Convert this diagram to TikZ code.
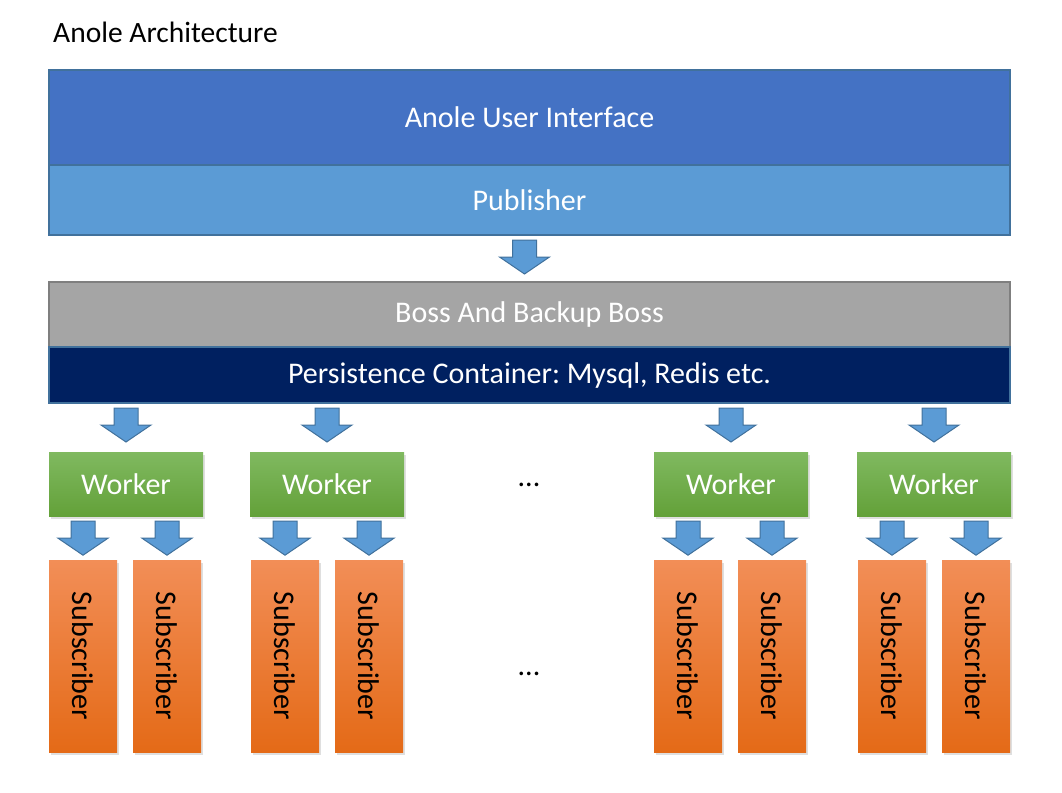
\documentclass[tikz,border=0pt]{standalone}
\usepackage{fontspec}
\setmainfont{Carlito}
\frenchspacing
\usetikzlibrary{calc,positioning,shadows}
\definecolor{uiblue}{HTML}{4472C4}
\definecolor{pubblue}{HTML}{5B9BD5}
\definecolor{edgeblue}{HTML}{41719C}
\definecolor{bossgrey}{HTML}{A5A5A5}
\definecolor{edgegrey}{HTML}{7F7F7F}
\definecolor{navyblue}{HTML}{002060}
\definecolor{greentop}{HTML}{80B960}
\definecolor{greenbot}{HTML}{63A139}
\definecolor{orangetop}{HTML}{F28E57}
\definecolor{orangebot}{HTML}{E46A17}
\tikzset{
  layer/.style={draw=edgeblue, line width=2pt, minimum width=961pt, inner sep=0pt, outer sep=0pt, text=white},
  worker/.style={minimum width=154pt, minimum height=64pt, top color=greentop, bottom color=greenbot, text=white,
    drop shadow={shadow xshift=1.5pt, shadow yshift=-2.5pt, opacity=0.25}},
  subscriber/.style={minimum width=68pt, minimum height=192pt, top color=orangetop, bottom color=orangebot,
    drop shadow={shadow xshift=1.5pt, shadow yshift=-2.5pt, opacity=0.25}},
  fatarrow/.style={fill=pubblue, draw=edgeblue, line width=1pt, line join=miter}
}
% block arrow under #2, straight above #3
\newcommand{\fatarrow}[3][0]{%
  \coordinate (fa) at ($(#3.north |- #2.south)+(#1,0)$);
  \draw[fatarrow] ($(fa)+(-12,5)$) -- ($(fa)+(12,5)$) -- ($(fa)+(12,22)$) -- ($(fa)+(25,22)$)
    -- ($(fa)+(0,39)$) -- ($(fa)+(-25,22)$) -- ($(fa)+(-12,22)$) -- cycle;}
\begin{document}
\begin{tikzpicture}[x=1pt, y=-1pt, font=\fontsize{30}{35}\selectfont]
        \useasboundingbox (0,0) rectangle (1062,792);
        \node[anchor=base west, inner sep=0pt, font=\fontsize{29.5}{35}\selectfont] (title) at (53,42) {Anole Architecture};
        % top layers
        \node[layer, fill=uiblue, minimum height=95pt] (ui) at (529.5,117.5) {Anole User Interface};
        \node[layer, fill=pubblue, minimum height=70pt, below=0pt of ui] (pub) {Publisher};
        \node[layer, fill=bossgrey, draw=edgegrey, minimum height=65pt] (boss) at (529.5,314.5) {Boss And Backup Boss};
        \node[layer, fill=navyblue, minimum height=56pt, below=0pt of boss] (persist) {Persistence Container: Mysql, Redis etc.};
        \fatarrow[-5]{pub}{boss}
        % workers
        \node[worker] (w1) at (126,484) {Worker};
        \node[worker] (w2) at (327,484) {Worker};
        \node[worker] (w3) at (731,484) {Worker};
        \node[worker] (w4) at (934,484) {Worker};
        \node[anchor=base, inner sep=0pt] (dotsw) at (529,486) {...};
        \fatarrow{persist}{w1}
        \fatarrow{persist}{w2}
        \fatarrow{persist}{w3}
        \fatarrow{persist}{w4}
        % subscribers
        \node[subscriber] (s1) at (83,656) {\rotatebox{-90}{Subscriber}};
        \node[subscriber] (s2) at (167,656) {\rotatebox{-90}{Subscriber}};
        \node[subscriber] (s3) at (285,656) {\rotatebox{-90}{Subscriber}};
        \node[subscriber] (s4) at (369,656) {\rotatebox{-90}{Subscriber}};
        \node[subscriber] (s5) at (688,656) {\rotatebox{-90}{Subscriber}};
        \node[subscriber] (s6) at (772,656) {\rotatebox{-90}{Subscriber}};
        \node[subscriber] (s7) at (892,656) {\rotatebox{-90}{Subscriber}};
        \node[subscriber] (s8) at (976,656) {\rotatebox{-90}{Subscriber}};
        \node[anchor=base, inner sep=0pt] (dotss) at (529,675) {...};
        \fatarrow{w1}{s1}
        \fatarrow{w1}{s2}
        \fatarrow{w2}{s3}
        \fatarrow{w2}{s4}
        \fatarrow{w3}{s5}
        \fatarrow{w3}{s6}
        \fatarrow{w4}{s7}
        \fatarrow{w4}{s8}
\end{tikzpicture}
\end{document}
